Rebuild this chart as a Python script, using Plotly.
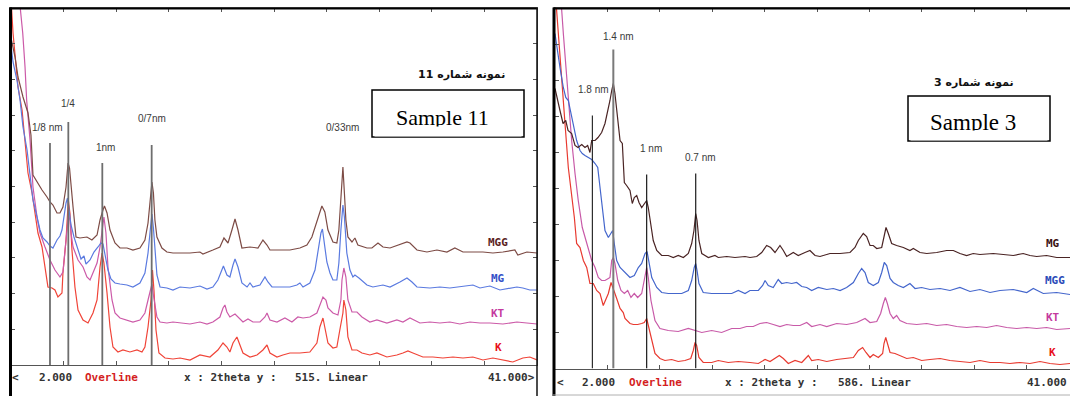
import plotly.graph_objects as go

W, H = 1070, 396


def fx(p):
    return p / W


def fy(p):
    return 1 - p / H


# ---------------- DATA: Sample 11 (left panel), (2theta, intensity) ----------------
left_mgg = [(2.00, 327), (2.30, 308), (2.52, 288), (2.89, 268), (3.26, 252), (3.48, 230), (3.63, 190), (3.93, 183),
            (4.30, 175), (4.67, 168), (4.89, 163), (5.11, 160), (5.41, 152), (5.63, 152), (5.85, 158), (6.08, 178),
            (6.23, 202), (6.34, 197), (6.45, 178), (6.60, 158), (6.82, 128), (7.11, 127), (7.63, 128), (8.00, 125),
            (8.38, 130), (8.60, 145), (8.82, 155), (8.93, 159), (9.12, 152), (9.34, 135), (9.71, 122), (10.08, 117),
            (10.60, 117), (11.04, 115), (11.56, 117), (11.93, 125), (12.16, 142), (12.34, 168), (12.45, 183),
            (12.56, 172), (12.67, 145), (12.82, 128), (13.19, 117), (13.56, 113), (14.01, 112), (14.53, 112),
            (15.27, 112), (16.01, 113), (16.23, 111), (16.97, 115), (17.49, 118), (17.79, 127), (18.09, 122),
            (18.38, 135), (18.61, 146), (18.83, 135), (19.12, 117), (19.72, 118), (20.31, 117), (20.68, 125),
            (20.98, 120), (21.20, 115), (21.94, 115), (22.68, 115), (23.42, 117), (23.94, 120), (24.31, 128),
            (24.68, 143), (25.05, 159), (25.27, 153), (25.50, 135), (25.87, 123), (26.16, 122), (26.31, 135),
            (26.46, 165), (26.61, 198), (26.72, 172), (26.83, 145), (26.98, 128), (27.28, 123), (27.50, 127),
            (27.72, 120), (28.39, 117), (28.76, 117), (29.21, 122), (29.58, 118), (30.10, 117), (30.69, 120),
            (31.36, 123), (31.58, 122), (32.10, 115), (32.84, 113), (33.58, 115), (34.32, 113), (34.91, 117),
            (35.51, 113), (36.25, 113), (36.99, 113), (37.73, 112), (38.47, 113), (39.36, 115), (39.58, 110),
            (40.25, 113), (41.00, 112)]

left_mg = [(2.00, 320), (2.15, 303), (2.44, 285), (2.67, 265), (2.89, 238), (3.19, 215), (3.41, 190), (3.63, 165),
           (3.93, 148), (4.15, 135), (4.37, 127), (4.67, 123), (4.89, 119), (5.11, 117), (5.41, 125), (5.63, 129),
           (5.78, 135), (5.93, 150), (6.08, 162), (6.19, 167), (6.30, 155), (6.45, 140), (6.67, 128), (6.97, 115),
           (7.19, 106), (7.41, 109), (7.56, 101), (7.86, 105), (8.15, 113), (8.45, 118), (8.67, 122), (8.82, 121),
           (8.97, 110), (9.19, 95), (9.41, 86), (9.71, 82), (10.08, 81), (10.60, 80), (11.04, 78), (11.56, 82),
           (11.93, 92), (12.16, 112), (12.34, 137), (12.45, 151), (12.56, 137), (12.67, 112), (12.82, 90),
           (13.05, 78), (13.56, 77), (14.01, 75), (14.53, 78), (15.27, 77), (16.01, 79), (16.53, 76), (16.97, 78),
           (17.34, 85), (17.64, 95), (17.75, 99), (18.01, 90), (18.23, 88), (18.46, 100), (18.61, 106), (18.83, 98),
           (19.12, 82), (19.50, 78), (19.72, 82), (19.94, 78), (20.46, 80), (20.83, 88), (21.05, 83), (21.35, 78),
           (21.94, 78), (22.68, 78), (23.20, 80), (23.42, 82), (23.65, 78), (24.16, 82), (24.54, 95), (24.76, 112),
           (24.98, 132), (25.09, 136), (25.20, 125), (25.42, 103), (25.65, 92), (25.87, 85), (26.16, 85),
           (26.31, 102), (26.46, 135), (26.61, 160), (26.72, 148), (26.90, 112), (27.13, 95), (27.35, 88),
           (27.50, 90), (27.80, 87), (28.39, 80), (28.83, 78), (29.58, 80), (30.10, 78), (30.84, 83), (31.36, 87),
           (31.73, 83), (32.10, 78), (33.06, 77), (33.80, 78), (34.54, 77), (35.28, 78), (36.25, 80), (36.77, 77),
           (37.51, 79), (38.25, 75), (38.99, 77), (39.51, 78), (39.95, 77), (40.47, 75), (41.00, 75)]

left_kt = [(2.00, 450), (2.67, 357), (2.72, 352), (2.87, 332), (3.04, 298), (3.16, 265), (3.41, 225), (3.63, 178),
           (3.93, 148), (4.15, 132), (4.52, 118), (4.89, 105), (5.26, 95), (5.63, 88), (5.85, 93), (6.00, 112),
           (6.15, 138), (6.26, 150), (6.37, 145), (6.45, 132), (6.60, 118), (6.97, 105), (7.34, 98), (7.63, 88),
           (7.86, 85), (8.08, 92), (8.38, 102), (8.60, 118), (8.75, 135), (8.89, 148), (9.04, 132), (9.19, 98),
           (9.49, 65), (9.71, 52), (10.08, 47), (10.60, 45), (11.04, 43), (11.56, 45), (11.93, 52), (12.16, 65),
           (12.34, 77), (12.45, 81), (12.56, 70), (12.67, 60), (12.82, 48), (13.05, 43), (13.56, 42), (14.01, 43),
           (14.53, 42), (15.27, 41), (16.01, 43), (16.53, 41), (16.97, 43), (17.49, 48), (17.72, 57), (17.86, 60),
           (18.01, 53), (18.23, 48), (18.61, 51), (18.83, 48), (19.20, 43), (19.57, 46), (19.94, 43), (20.46, 43),
           (20.83, 48), (20.98, 52), (21.20, 45), (21.72, 43), (22.31, 47), (22.83, 43), (23.27, 48), (23.65, 47),
           (24.16, 48), (24.68, 52), (24.90, 60), (25.13, 68), (25.35, 65), (25.50, 57), (25.87, 52), (26.24, 50),
           (26.46, 65), (26.54, 85), (26.68, 97), (26.83, 88), (26.98, 65), (27.28, 53), (27.65, 53), (28.02, 48),
           (28.61, 43), (29.13, 45), (29.87, 42), (30.61, 45), (31.06, 43), (31.58, 47), (32.32, 42), (33.06, 43),
           (33.80, 42), (34.54, 43), (35.28, 41), (36.03, 43), (36.77, 42), (37.51, 42), (38.47, 41), (39.51, 43),
           (40.25, 42), (41.00, 41)]

left_k = [(2.00, 385), (2.05, 355), (2.15, 332), (2.30, 308), (2.52, 278), (2.82, 255), (3.04, 222), (3.26, 192),
          (3.56, 172), (3.78, 152), (4.00, 132), (4.30, 118), (4.52, 98), (4.74, 78), (5.04, 77), (5.26, 75),
          (5.48, 68), (5.78, 72), (5.85, 92), (6.08, 125), (6.25, 165), (6.37, 152), (6.52, 115), (6.74, 78),
          (6.97, 55), (7.34, 45), (7.71, 42), (8.08, 52), (8.38, 65), (8.60, 98), (8.75, 112), (8.89, 102),
          (9.12, 72), (9.34, 38), (9.56, 18), (9.93, 13), (10.30, 15), (10.82, 13), (11.34, 15), (11.71, 13),
          (11.93, 18), (12.16, 38), (12.38, 65), (12.49, 95), (12.60, 75), (12.75, 35), (12.97, 12), (13.42, 7),
          (14.01, 6), (14.53, 7), (15.27, 5), (16.01, 10), (16.75, 8), (17.34, 15), (17.72, 22), (18.01, 18),
          (18.23, 13), (18.46, 22), (18.75, 28), (18.90, 22), (19.20, 12), (19.72, 8), (20.24, 10), (20.68, 15),
          (20.98, 20), (21.20, 12), (21.72, 8), (22.16, 10), (22.68, 12), (23.42, 12), (24.16, 13), (24.68, 22),
          (24.90, 38), (25.13, 47), (25.27, 38), (25.50, 22), (25.87, 17), (26.16, 18), (26.38, 35), (26.61, 52),
          (26.68, 65), (26.83, 55), (26.98, 28), (27.28, 15), (27.65, 15), (28.02, 12), (28.61, 10), (29.13, 12),
          (29.87, 8), (30.61, 10), (31.06, 12), (31.43, 14), (31.80, 12), (32.54, 8), (33.28, 8), (34.02, 7),
          (34.77, 8), (35.51, 7), (36.25, 8), (36.99, 5), (37.73, 7), (38.47, 5), (39.21, 3), (39.95, 7),
          (40.47, 8), (41.00, 5)]

# ---------------- DATA: Sample 3 (right panel) ----------------
right_mg = [(2.00, 280), (2.13, 271), (2.37, 258), (2.60, 245), (2.80, 248), (2.97, 238), (3.24, 235), (3.49, 223),
            (3.71, 221), (3.99, 224), (4.23, 221), (4.43, 223), (4.60, 216), (4.73, 228), (4.98, 228), (5.20, 231),
            (5.47, 236), (5.72, 245), (5.94, 258), (6.09, 268), (6.22, 278), (6.34, 285), (6.46, 275), (6.67, 245),
            (6.84, 228), (7.01, 225), (7.16, 186), (7.33, 183), (7.58, 178), (7.75, 165), (7.90, 171), (8.08, 173),
            (8.25, 166), (8.45, 161), (8.64, 165), (8.82, 168), (8.94, 161), (9.14, 141), (9.31, 128), (9.57, 118),
            (9.94, 113), (10.43, 113), (10.80, 111), (11.17, 113), (11.55, 111), (11.92, 115), (12.17, 125),
            (12.34, 138), (12.47, 155), (12.57, 148), (12.71, 128), (12.92, 115), (13.41, 111), (13.90, 113),
            (14.15, 111), (14.78, 112), (15.39, 111), (16.14, 112), (16.51, 111), (17.01, 112), (17.38, 116),
            (17.75, 123), (18.05, 121), (18.37, 116), (18.74, 123), (18.99, 118), (19.24, 112), (19.73, 116),
            (20.10, 113), (20.60, 116), (20.97, 118), (21.35, 113), (21.72, 112), (22.46, 115), (23.21, 115),
            (23.95, 116), (24.32, 121), (24.57, 128), (24.94, 135), (25.19, 132), (25.44, 123), (25.68, 123),
            (25.94, 120), (26.31, 121), (26.48, 131), (26.63, 141), (26.80, 135), (27.05, 125), (27.42, 123),
            (27.92, 121), (28.41, 118), (28.66, 120), (29.16, 116), (29.66, 115), (30.40, 116), (31.14, 118),
            (31.64, 118), (32.13, 115), (32.63, 113), (33.12, 115), (33.62, 114), (34.61, 115), (35.36, 114),
            (36.10, 113), (36.84, 115), (37.34, 113), (37.84, 112), (38.58, 113), (39.33, 111), (40.32, 111)]

right_mgg = [(2.00, 335), (2.13, 321), (2.37, 301), (2.62, 281), (2.80, 271), (2.99, 268), (3.19, 255), (3.36, 241),
             (3.61, 228), (3.86, 218), (4.03, 215), (4.23, 213), (4.48, 211), (4.73, 209), (4.98, 205), (5.18, 201),
             (5.35, 181), (5.52, 161), (5.72, 138), (5.97, 131), (6.14, 135), (6.29, 138), (6.41, 125), (6.59, 108),
             (6.84, 101), (7.21, 96), (7.58, 91), (7.90, 93), (8.20, 101), (8.45, 105), (8.70, 115), (8.85, 117),
             (8.99, 108), (9.20, 91), (9.57, 81), (9.94, 76), (10.43, 75), (10.93, 75), (11.43, 75), (11.92, 78),
             (12.17, 88), (12.36, 101), (12.47, 105), (12.57, 98), (12.71, 85), (13.03, 76), (13.66, 75),
             (14.40, 75), (15.15, 75), (15.64, 78), (16.14, 75), (16.51, 78), (17.13, 78), (17.45, 83), (17.63, 88),
             (17.87, 83), (18.24, 81), (18.61, 89), (18.87, 85), (19.24, 86), (19.61, 85), (19.98, 86), (20.36, 82),
             (20.73, 81), (21.10, 78), (21.59, 81), (22.22, 79), (22.71, 80), (23.21, 78), (23.70, 81), (24.20, 86),
             (24.57, 95), (24.82, 100), (25.07, 96), (25.31, 86), (25.68, 83), (26.06, 86), (26.31, 96),
             (26.50, 106), (26.68, 103), (26.93, 90), (27.17, 86), (27.54, 83), (27.92, 81), (28.41, 85),
             (28.79, 80), (29.28, 81), (29.90, 79), (30.65, 80), (31.39, 78), (32.13, 81), (32.88, 77), (33.62, 79),
             (34.37, 76), (35.11, 78), (36.10, 79), (37.10, 76), (37.59, 80), (38.33, 75), (39.33, 76), (40.32, 74)]

right_kt = [(2.00, 420), (2.50, 358), (2.62, 335), (2.80, 301), (2.99, 268), (3.24, 228), (3.49, 195), (3.73, 168),
            (4.03, 141), (4.36, 125), (4.73, 108), (4.98, 101), (5.22, 91), (5.47, 88), (5.72, 88), (5.97, 90),
            (6.09, 91), (6.22, 108), (6.34, 111), (6.46, 105), (6.67, 88), (6.91, 78), (7.16, 75), (7.41, 78),
            (7.65, 71), (7.90, 75), (8.15, 71), (8.45, 75), (8.64, 88), (8.82, 101), (8.94, 91), (9.14, 68),
            (9.44, 48), (9.81, 40), (10.43, 38), (11.17, 37), (11.92, 40), (12.42, 38), (12.92, 36), (13.66, 38),
            (14.40, 36), (15.15, 40), (15.76, 40), (16.26, 42), (16.75, 42), (17.25, 45), (17.75, 46), (18.24, 44),
            (18.74, 42), (19.24, 44), (19.73, 43), (20.23, 43), (20.73, 46), (21.10, 42), (21.72, 44), (22.22, 42),
            (22.96, 45), (23.70, 44), (24.45, 46), (25.07, 50), (25.44, 46), (25.94, 47), (26.23, 55), (26.43, 65),
            (26.58, 71), (26.73, 65), (26.93, 55), (27.17, 50), (27.42, 53), (27.67, 48), (28.17, 45), (28.91, 44),
            (29.66, 45), (30.40, 43), (31.14, 44), (31.89, 42), (32.63, 41), (33.38, 42), (34.12, 41), (34.86, 43),
            (35.61, 41), (36.35, 40), (37.10, 41), (37.84, 40), (38.58, 41), (39.33, 39), (40.32, 40)]

right_k = [(2.00, 380), (2.13, 355), (2.25, 335), (2.45, 301), (2.62, 268), (2.80, 235), (2.99, 201), (3.24, 175),
           (3.44, 151), (3.61, 125), (3.86, 121), (4.11, 108), (4.36, 101), (4.60, 85), (4.85, 85), (5.10, 78),
           (5.35, 75), (5.59, 63), (5.77, 68), (5.97, 75), (6.17, 86), (6.34, 80), (6.59, 70), (6.84, 60),
           (7.08, 56), (7.21, 50), (7.41, 47), (7.58, 45), (7.83, 44), (8.15, 44), (8.45, 45), (8.64, 46),
           (8.82, 50), (8.94, 43), (9.20, 28), (9.44, 15), (9.81, 10), (10.18, 8), (10.68, 9), (11.17, 7),
           (11.67, 8), (12.10, 10), (12.29, 18), (12.42, 26), (12.54, 23), (12.71, 11), (13.03, 6), (13.66, 6),
           (14.15, 8), (14.89, 6), (15.64, 7), (16.14, 6), (16.51, 6), (17.13, 5), (17.63, 9), (18.00, 7),
           (18.37, 10), (18.69, 13), (18.99, 10), (19.36, 5), (19.86, 8), (20.36, 6), (20.85, 13), (21.10, 8),
           (21.59, 9), (22.22, 7), (22.96, 9), (23.70, 10), (24.20, 11), (24.57, 18), (24.89, 21), (25.14, 16),
           (25.44, 11), (25.68, 14), (26.06, 11), (26.38, 15), (26.48, 25), (26.61, 31), (26.73, 25), (26.93, 16),
           (27.30, 15), (27.67, 13), (28.17, 10), (28.66, 11), (29.28, 8), (29.90, 9), (30.65, 10), (31.39, 8),
           (32.13, 7), (32.88, 6), (33.62, 8), (34.37, 6), (35.11, 6), (35.85, 5), (36.60, 6), (37.34, 5),
           (38.09, 7), (38.83, 5), (39.57, 4), (40.32, 5)]

# d-spacing marker lines: 2theta position, top intensity, label, label position
left_marker_theta = [4.89, 6.25, 8.77, 12.43]
left_marker_top = [222, 243, 202, 220]
left_label_text = ["1/8 nm", "1/4", "1nm", "0/7nm", "0/33nm"]
left_label_theta = [4.74, 6.23, 8.97, 12.45, 26.61]
left_label_int = [238, 262, 218, 247, 238]

right_marker_theta = [4.78, 6.34, 8.82, 12.47]
right_marker_top = [253, 319, 194, 195]
right_label_text = ["1.8 nm", "1.4 nm", "1 nm", "0.7 nm"]
right_label_theta = [4.90, 6.69, 9.14, 12.79]
right_label_int = [279, 332, 220, 211]

left_names = ["MGG", "MG", "KT", "K"]
left_name_theta = [38.10, 38.10, 38.10, 38.17]
left_name_int = [123, 87, 52, 18]
right_names = ["MG", "MGG", "KT", "K"]
right_name_theta = [39.05, 39.20, 39.05, 39.05]
right_name_int = [125, 88, 51, 16]

left_range = [2, 41]
right_range = [2, 40.32]
left_ymax = 357
right_ymax = 360.5

# ---------------- FIGURE ----------------
fig = go.Figure()

left_series = [(left_k, "#f04438"), (left_kt, "#cc5aa8"), (left_mg, "#5a7ae0"), (left_mgg, "#7d4b45")]
right_series = [(right_k, "#e83a30"), (right_kt, "#c85aa8"), (right_mgg, "#4466cc"), (right_mg, "#4a2424")]

for pts, col in left_series:
    fig.add_trace(go.Scatter(x=[p[0] for p in pts], y=[p[1] for p in pts], mode="lines",
                             line=dict(color=col, width=1.2), xaxis="x", yaxis="y",
                             hoverinfo="skip", showlegend=False))
for pts, col in right_series:
    fig.add_trace(go.Scatter(x=[p[0] for p in pts], y=[p[1] for p in pts], mode="lines",
                             line=dict(color=col, width=1.2), xaxis="x2", yaxis="y2",
                             hoverinfo="skip", showlegend=False))

shapes = []
# marker lines (data coordinates)
for t, top in zip(left_marker_theta, left_marker_top):
    shapes.append(dict(type="line", xref="x", yref="y", x0=t, x1=t, y0=0, y1=top,
                       line=dict(color="#6e6e6e", width=1.8)))
right_marker_style = [("#1a1a1a", 1.1), ("#7a7a7a", 2.0), ("#1a1a1a", 1.2), ("#1a1a1a", 1.2)]
for (t, top), (c, w) in zip(zip(right_marker_theta, right_marker_top), right_marker_style):
    shapes.append(dict(type="line", xref="x2", yref="y2", x0=t, x1=t, y0=0, y1=top,
                       line=dict(color=c, width=w)))


def pline(x0, y0, x1, y1, color="#000", width=1):
    return dict(type="line", xref="paper", yref="paper", x0=fx(x0), y0=fy(y0), x1=fx(x1), y1=fy(y1),
                line=dict(color=color, width=width))


# frames
shapes += [
    pline(10.5, 7.5, 10.5, 396, "#000", 3),
    pline(9, 8.5, 537.5, 8.5, "#000", 2),
    pline(537, 8, 537, 396, "#111", 1.5),
    pline(554, 7.5, 554, 396, "#000", 3),
    pline(553, 8.5, 1070, 8.5, "#000", 2),
    pline(553, 395, 1070, 395, "#b0b0b0", 1),
]
# sample boxes
shapes += [
    dict(type="rect", xref="paper", yref="paper", x0=fx(372), x1=fx(524), y0=fy(137), y1=fy(90),
         line=dict(color="#000", width=1.5), fillcolor="white"),
    dict(type="rect", xref="paper", yref="paper", x0=fx(908), x1=fx(1050), y0=fy(141), y1=fy(96),
         line=dict(color="#000", width=1.5), fillcolor="white"),
]

ann = []
label_font = dict(family="Liberation Sans Narrow, Liberation Sans, Arial", size=10, color="#3a3a3a")
for txt, t, v in zip(left_label_text, left_label_theta, left_label_int):
    ann.append(dict(text=txt, x=t, y=v, xref="x", yref="y", showarrow=False, font=label_font,
                    xanchor="center", yanchor="middle"))
for txt, t, v in zip(right_label_text, right_label_theta, right_label_int):
    ann.append(dict(text=txt, x=t, y=v, xref="x2", yref="y2", showarrow=False, font=label_font,
                    xanchor="center", yanchor="middle"))

name_colors_left = ["#5a1e1e", "#3450c8", "#c43a9e", "#e8101a"]
name_colors_right = ["#3a1010", "#2a4ab8", "#c43a9e", "#e8101a"]
for n, t, v, c in zip(left_names, left_name_theta, left_name_int, name_colors_left):
    ann.append(dict(text="<b>%s</b>" % n, x=t, y=v, xref="x", yref="y", showarrow=False,
                    font=dict(family="DejaVu Sans Mono", size=11, color=c), xanchor="center", yanchor="middle"))
for n, t, v, c in zip(right_names, right_name_theta, right_name_int, name_colors_right):
    ann.append(dict(text="<b>%s</b>" % n, x=t, y=v, xref="x2", yref="y2", showarrow=False,
                    font=dict(family="DejaVu Sans Mono", size=11, color=c), xanchor="center", yanchor="middle"))

# status strip text
mono = "DejaVu Sans Mono"
strip_left = [("<", 10, "#333", "left"), ("2.000", 37, "#333", "left"), ("Overline", 83, "#d41e1e", "left"),
              ("x : 2theta y :", 182, "#333", "left"), ("515. Linear", 293, "#333", "left"),
              ("41.000>", 537, "#333", "right")]
strip_right = [("<", 555, "#333", "left"), ("2.000", 580, "#333", "left"), ("Overline", 627, "#d41e1e", "left"),
               ("x : 2theta y :", 723, "#333", "left"), ("586. Linear", 836, "#333", "left"),
               ("41.000", 1069, "#333", "right")]
for txt, x0, c, anc in strip_left:
    ann.append(dict(text="<b>%s</b>" % txt.replace("<", "&lt;").replace(">", "&gt;"), x=fx(x0), y=fy(377.5),
                    xref="paper", yref="paper", showarrow=False,
                    font=dict(family=mono, size=11, color=c), xanchor=anc, yanchor="middle"))
for txt, x0, c, anc in strip_right:
    ann.append(dict(text="<b>%s</b>" % txt.replace("<", "&lt;").replace(">", "&gt;"), x=fx(x0), y=fy(382),
                    xref="paper", yref="paper", showarrow=False,
                    font=dict(family=mono, size=11, color=c), xanchor=anc, yanchor="middle"))

# sample titles
serif = "Liberation Serif, Times New Roman, serif"
ann.append(dict(text="Sample 11", x=fx(442), y=fy(117.5), xref="paper", yref="paper", showarrow=False,
                font=dict(family=serif, size=22, color="#000"), xanchor="center", yanchor="middle"))
ann.append(dict(text="Sample 3", x=fx(973), y=fy(122.5), xref="paper", yref="paper", showarrow=False,
                font=dict(family=serif, size=23, color="#000"), xanchor="center", yanchor="middle"))
# white strips that clip the bottom of the sample titles, as in the scanned figure
ann.append(dict(text=" ", x=fx(448), y=fy(131), xref="paper", yref="paper", showarrow=False, width=146,
                height=9, bgcolor="white", borderpad=0, xanchor="center", yanchor="middle"))
ann.append(dict(text=" ", x=fx(979), y=fy(135.5), xref="paper", yref="paper", showarrow=False, width=136,
                height=9, bgcolor="white", borderpad=0, xanchor="center", yanchor="middle"))

persian = "DejaVu Sans, Noto Sans, sans-serif"
ann.append(dict(text="<b>\u202bنمونه شماره 11\u202c</b>", x=fx(507), y=fy(74), xref="paper", yref="paper",
                showarrow=False, font=dict(family=persian, size=11, color="#111"), xanchor="right",
                yanchor="middle"))
ann.append(dict(text="<b>\u202bنمونه شماره 3\u202c</b>", x=fx(1016), y=fy(83), xref="paper", yref="paper",
                showarrow=False, font=dict(family=persian, size=11, color="#111"), xanchor="right",
                yanchor="middle"))

axis_common = dict(showgrid=False, zeroline=False, showline=True, linecolor="#555", linewidth=1,
                   showticklabels=False, ticks="inside", ticklen=4, tickwidth=1, tickcolor="#555",
                   fixedrange=True)

fig.update_layout(
    width=W, height=H, autosize=False,
    margin=dict(l=0, r=0, t=0, b=0),
    paper_bgcolor="white", plot_bgcolor="white",
    showlegend=False,
    xaxis=dict(domain=[fx(11), fx(537)], range=left_range, tick0=2, dtick=3.9, anchor="y", mirror="ticks",
               **axis_common),
    yaxis=dict(domain=[fy(365), fy(8)], range=[0, left_ymax], tick0=0, dtick=left_ymax / 10, anchor="x",
               mirror="ticks", **axis_common),
    xaxis2=dict(domain=[fx(555), 1], range=right_range, tick0=2, dtick=3.9, anchor="y2", mirror="ticks",
                **axis_common),
    yaxis2=dict(domain=[fy(368.5), fy(8)], range=[0, right_ymax], tick0=0, dtick=right_ymax / 10,
                anchor="x2", mirror=False, **axis_common),
    shapes=shapes,
    annotations=ann,
)

fig.write_html(
    "out.html",
    config={"displayModeBar": False, "staticPlot": True},
    post_script=("document.body.style.margin='0';document.body.style.overflow='hidden';"
                 "document.documentElement.style.overflow='hidden';"),
)
